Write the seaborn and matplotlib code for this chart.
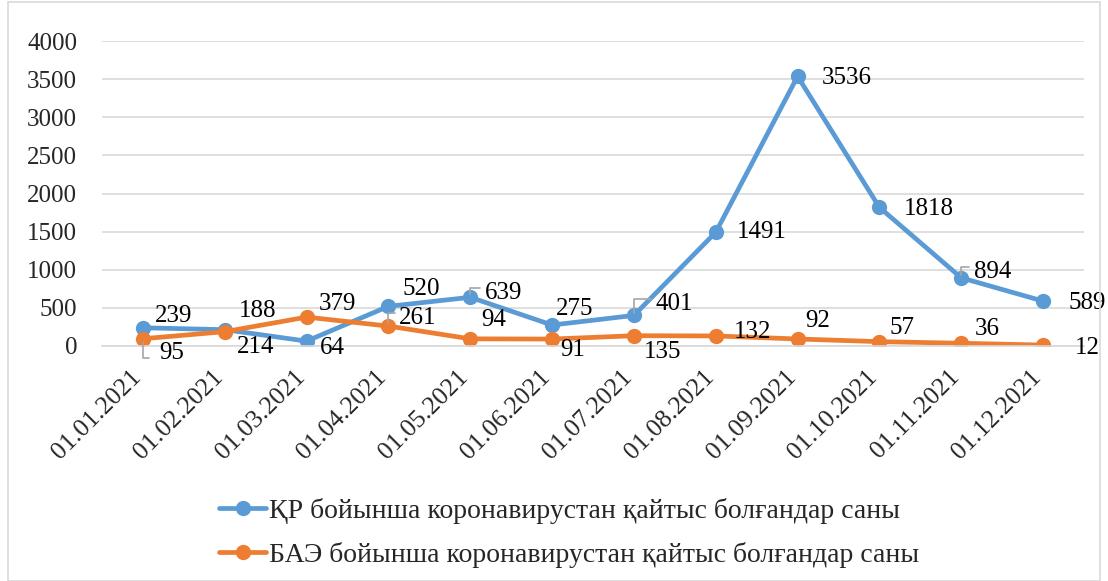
import matplotlib.pyplot as plt
import seaborn as sns
import pandas as pd
import numpy as np
from matplotlib.patches import Rectangle

# data
dates = ['01.01.2021', '01.02.2021', '01.03.2021', '01.04.2021', '01.05.2021', '01.06.2021',
         '01.07.2021', '01.08.2021', '01.09.2021', '01.10.2021', '01.11.2021', '01.12.2021']
kz_deaths = [239, 214, 64, 520, 639, 275, 401, 1491, 3536, 1818, 894, 589]
uae_deaths = [95, 188, 379, 261, 94, 91, 135, 132, 92, 57, 36, 12]
kz_label = 'ҚР бойынша коронавирустан қайтыс болғандар саны'
uae_label = 'БАЭ бойынша коронавирустан қайтыс болғандар саны'

# label offsets in pixels (dx, dy), and whether a leader line is drawn
kz_offsets = [(31, 12), (31, -17), (26, -7), (33, 17), (33, 4), (23, 16), (40, 11), (46, 0), (49, -2), (49, -2), (31, 6), (44, -2)]
kz_leader = [False, False, False, False, True, False, True, False, False, False, True, False]
uae_offsets = [(29, -14), (33, 21), (31, 13), (29, 8), (23, 19), (21, -11), (29, -16), (37, 4), (20, 18), (23, 14), (26, 14), (44, -3)]
uae_leader = [True, False, False, True, False, False, False, False, False, False, False, False]

blue = '#5B9BD5'
orange = '#ED7D31'

sns.set_style('white')
plt.rcParams['font.family'] = ['Liberation Serif', 'DejaVu Serif']

df = pd.DataFrame({'pos': np.arange(len(dates)), 'kz': kz_deaths, 'uae': uae_deaths})

fig = plt.figure(figsize=(11.08, 5.81), dpi=100)
ax = fig.add_axes([102 / 1108, 1 - 346 / 581, 982 / 1108, 305 / 581])

sns.lineplot(data=df, x='pos', y='kz', ax=ax, color=blue, linewidth=3.4, marker='o',
             markersize=11, markeredgewidth=0, label=kz_label)
sns.lineplot(data=df, x='pos', y='uae', ax=ax, color=orange, linewidth=3.4, marker='o',
             markersize=11, markeredgewidth=0, label=uae_label)


def add_labels(values, offsets, leaders):
    for i, v in enumerate(values):
        dx, dy = offsets[i]
        ax.annotate(str(v), (i, v), xytext=(dx, dy), textcoords='offset pixels',
                    ha='center', va='center', fontsize=18, color='black')
        if leaders[i]:
            ax.annotate('', (i, v), xytext=(dx - 20, dy + (5 if dy > 0 else -5)),
                        textcoords='offset pixels',
                        arrowprops=dict(arrowstyle='-', color='#a6a6a6', lw=1.2,
                                        connectionstyle='angle,angleA=0,angleB=90,rad=0'))


add_labels(kz_deaths, kz_offsets, kz_leader)
add_labels(uae_deaths, uae_offsets, uae_leader)

ax.set_xlim(-0.5, len(dates) - 0.5)
ax.set_ylim(0, 4000)
ax.set_yticks(np.arange(0, 4001, 500))
ax.set_xticks(np.arange(len(dates)))
ax.set_xticklabels([''] * len(dates))
# rotated date labels placed under each category
for i, d in enumerate(dates):
    ax.annotate(d, (i, 0), xycoords=('data', 'axes fraction'), xytext=(-13, -20),
                textcoords='offset pixels', rotation=45, ha='right', va='top',
                rotation_mode='anchor', fontsize=18.5)
ax.set_xticks(np.arange(-0.5, len(dates), 1), minor=True)
ax.tick_params(axis='x', which='major', length=0)
ax.tick_params(axis='x', which='minor', length=6, color='#d9d9d9', width=1)
ax.tick_params(axis='y', length=0, pad=18, labelsize=18)
ax.set_xlabel('')
ax.set_ylabel('')
ax.grid(axis='y', color='#d9d9d9', linewidth=1.2)
ax.set_axisbelow(True)
for side in ['top', 'right', 'left']:
    ax.spines[side].set_visible(False)
ax.spines['bottom'].set_color('#d9d9d9')
ax.spines['bottom'].set_linewidth(1.2)

ax.legend(loc='upper left', bbox_to_anchor=(208 / 1108, 1 - 487 / 581),
          bbox_transform=fig.transFigure, frameon=False, fontsize=20,
          handlelength=1.7, handletextpad=0.1, labelspacing=0.65, borderaxespad=0)

fig.patches.append(Rectangle((8 / 1108, 0), 1 - 16 / 1108, 1 - 2 / 581, transform=fig.transFigure,
                             fill=False, edgecolor='#d9d9d9', linewidth=1.2))

plt.savefig('out.png', dpi=100)
plt.close()
